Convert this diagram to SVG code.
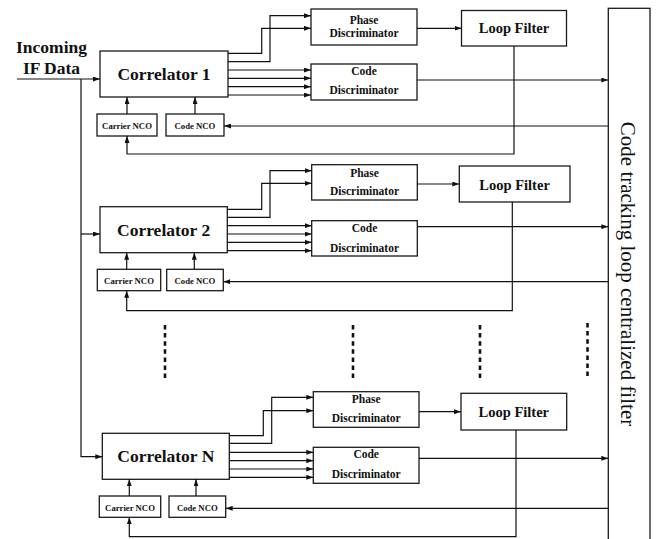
<svg xmlns="http://www.w3.org/2000/svg" width="656" height="539" viewBox="0 0 656 539">
  <style>
    .box { fill: #fff; stroke: #1a1a1a; stroke-width: 1.3; }
    .ln { fill: none; stroke: #111; stroke-width: 1.2; }
    .arr { marker-end: url(#ah); }
    .dots { fill: none; stroke: #111; stroke-width: 2.6; stroke-dasharray: 4.5 3.6; }
    text { font-family: "Liberation Serif", "Times New Roman", serif; fill: #111; text-anchor: middle; }
    .big { font-size: 17.5px; font-weight: bold; }
    .lf { font-size: 14.5px; font-weight: bold; }
    .disc { font-size: 11.5px; font-weight: bold; }
    .nco { font-size: 8.7px; font-weight: bold; }
    .col { font-size: 21px; }
  </style>
  <defs>
    <marker id="ah" viewBox="0 0 7 5" refX="7" refY="2.5" markerWidth="7" markerHeight="5" markerUnits="userSpaceOnUse" orient="auto">
      <path d="M0,0 L7,2.5 L0,5 z" fill="#111"/>
    </marker>
  </defs>

  <!-- input label -->
  <g id="input-label">
    <text class="big" x="51.5" y="53">Incoming</text>
    <text class="big" x="51.5" y="74">IF Data</text>
  </g>

  <!-- centralized filter column -->
  <g id="centralized-filter">
    <rect class="box" x="608.3" y="8.3" width="41.7" height="540"/>
    <text class="col" transform="translate(621,274) rotate(90)">Code tracking loop centralized filter</text>
  </g>

  <!-- channel 1 -->
  <g id="correlator-1">
    <rect class="box" x="100" y="51" width="128" height="46"/>
    <text class="big" x="164" y="80">Correlator 1</text>
  </g>
  <g id="phase-disc-1">
    <rect class="box" x="311" y="9" width="106" height="36"/>
    <text class="disc" x="364" y="23.5">Phase</text>
    <text class="disc" x="364" y="37.3">Discriminator</text>
  </g>
  <g id="code-disc-1">
    <rect class="box" x="311" y="64" width="106" height="36"/>
    <text class="disc" x="364" y="75">Code</text>
    <text class="disc" x="364" y="94">Discriminator</text>
  </g>
  <g id="loop-filter-1">
    <rect class="box" x="461.5" y="10.5" width="105" height="35.5"/>
    <text class="lf" x="514" y="33.3">Loop Filter</text>
  </g>
  <g id="carrier-nco-1">
    <rect class="box" x="97" y="114" width="60" height="22"/>
    <text class="nco" x="127" y="128.5">Carrier NCO</text>
  </g>
  <g id="code-nco-1">
    <rect class="box" x="166" y="114" width="58" height="22"/>
    <text class="nco" x="195" y="128.5">Code NCO</text>
  </g>

  <!-- channel 2 -->
  <g id="correlator-2">
    <rect class="box" x="100" y="206.7" width="127.3" height="46"/>
    <text class="big" x="163.6" y="235.5">Correlator 2</text>
  </g>
  <g id="phase-disc-2">
    <rect class="box" x="311.7" y="164.7" width="105.6" height="35.3"/>
    <text class="disc" x="364.5" y="176.5">Phase</text>
    <text class="disc" x="364.5" y="195">Discriminator</text>
  </g>
  <g id="code-disc-2">
    <rect class="box" x="311.7" y="220.7" width="105.6" height="35.3"/>
    <text class="disc" x="364.5" y="231.7">Code</text>
    <text class="disc" x="364.5" y="251.5">Discriminator</text>
  </g>
  <g id="loop-filter-2">
    <rect class="box" x="459.3" y="166" width="110.7" height="36"/>
    <text class="lf" x="514.6" y="189.5">Loop Filter</text>
  </g>
  <g id="carrier-nco-2">
    <rect class="box" x="97.3" y="269.3" width="63.4" height="21.4"/>
    <text class="nco" x="129" y="283.8">Carrier NCO</text>
  </g>
  <g id="code-nco-2">
    <rect class="box" x="166.7" y="269.3" width="56.6" height="21.4"/>
    <text class="nco" x="195" y="283.8">Code NCO</text>
  </g>

  <!-- channel N -->
  <g id="correlator-n">
    <rect class="box" x="102.3" y="433.3" width="127" height="46"/>
    <text class="big" x="165.8" y="462">Correlator N</text>
  </g>
  <g id="phase-disc-n">
    <rect class="box" x="313.3" y="391.7" width="105.7" height="35.6"/>
    <text class="disc" x="366.2" y="402.5">Phase</text>
    <text class="disc" x="366.2" y="421.7">Discriminator</text>
  </g>
  <g id="code-disc-n">
    <rect class="box" x="313.3" y="447.3" width="105.7" height="36"/>
    <text class="disc" x="366.2" y="457.8">Code</text>
    <text class="disc" x="366.2" y="477.5">Discriminator</text>
  </g>
  <g id="loop-filter-n">
    <rect class="box" x="461" y="393.3" width="105.7" height="36.7"/>
    <text class="lf" x="513.8" y="416.7">Loop Filter</text>
  </g>
  <g id="carrier-nco-n">
    <rect class="box" x="99.3" y="496" width="61.4" height="21.3"/>
    <text class="nco" x="130" y="510.5">Carrier NCO</text>
  </g>
  <g id="code-nco-n">
    <rect class="box" x="169" y="496" width="56.7" height="21.3"/>
    <text class="nco" x="197.3" y="510.5">Code NCO</text>
  </g>

  <!-- ellipsis between channel 2 and channel N -->
  <g id="ellipsis">
    <path class="dots" d="M165,325 V380"/>
    <path class="dots" d="M353,325 V380"/>
    <path class="dots" d="M480,325 V380"/>
    <path class="dots" d="M587.5,323 V378"/>
  </g>

  <g id="connectors">
    <!-- input distribution -->
    <path class="ln arr" d="M17,79 H100"/>
    <path class="ln arr" d="M81,79 V456.7 H102.3"/>
    <path class="ln arr" d="M81,234 H100"/>

    <!-- channel 1 -->
    <path class="ln arr" d="M228,53.3 H261.7 V28.3 H311"/>
    <path class="ln arr" d="M228,61.7 H270 V15.7 H311"/>
    <path class="ln arr" d="M228,70 H311"/>
    <path class="ln arr" d="M228,78.3 H311"/>
    <path class="ln arr" d="M228,86.7 H311"/>
    <path class="ln arr" d="M228,95 H311"/>
    <path class="ln arr" d="M417,28.3 H461.5"/>
    <path class="ln arr" d="M417,80 H608.3"/>
    <path class="ln arr" d="M127,114 V97"/>
    <path class="ln arr" d="M195,114 V97"/>
    <path class="ln arr" d="M608.3,126 H224"/>
    <path class="ln arr" d="M514,46 V154 H127 V136"/>

    <!-- channel 2 -->
    <path class="ln arr" d="M227.3,209.3 H261.7 V183.3 H311.7"/>
    <path class="ln arr" d="M227.3,217.3 H270 V170.7 H311.7"/>
    <path class="ln arr" d="M227.3,225.7 H311.7"/>
    <path class="ln arr" d="M227.3,234 H311.7"/>
    <path class="ln arr" d="M227.3,242.3 H311.7"/>
    <path class="ln arr" d="M227.3,250.7 H311.7"/>
    <path class="ln arr" d="M417.3,184 H459.3"/>
    <path class="ln arr" d="M417.3,226.7 H608.3"/>
    <path class="ln arr" d="M126.7,269.3 V252.7"/>
    <path class="ln arr" d="M194.3,269.3 V252.7"/>
    <path class="ln arr" d="M608.3,281.7 H223.3"/>
    <path class="ln arr" d="M512.3,202 V310.7 H126.7 V290.7"/>

    <!-- channel N -->
    <path class="ln arr" d="M229.3,435.7 H263.3 V410.7 H313.3"/>
    <path class="ln arr" d="M229.3,443.3 H271.7 V397.3 H313.3"/>
    <path class="ln arr" d="M229.3,452.3 H313.3"/>
    <path class="ln arr" d="M229.3,460.7 H313.3"/>
    <path class="ln arr" d="M229.3,469 H313.3"/>
    <path class="ln arr" d="M229.3,477.3 H313.3"/>
    <path class="ln arr" d="M419,411.7 H461"/>
    <path class="ln arr" d="M419,458.3 H608.3"/>
    <path class="ln arr" d="M129.3,496 V479.3"/>
    <path class="ln arr" d="M196,496 V479.3"/>
    <path class="ln arr" d="M608.3,508.3 H225.7"/>
    <path class="ln arr" d="M516,430 V536.7 H129.3 V517.3"/>
  </g>
</svg>
